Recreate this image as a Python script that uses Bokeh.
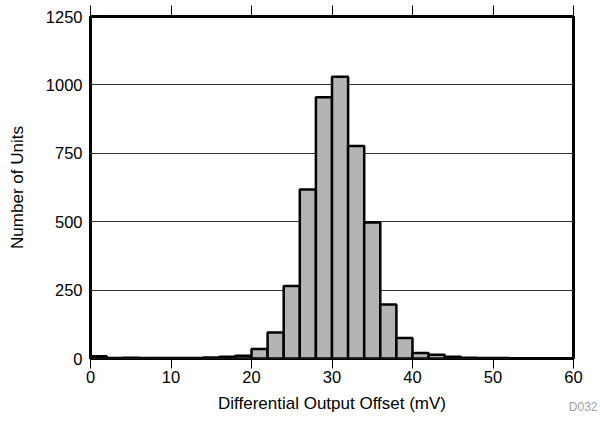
from bokeh.plotting import figure
from bokeh.models import Range1d, LinearAxis, FixedTicker, Title, CustomJSTickFormatter
from bokeh.embed import file_html
from bokeh.resources import INLINE

bin_left = [0, 2, 4, 6, 8, 10, 12, 14, 16, 18, 20, 22, 24, 26, 28,
            30, 32, 34, 36, 38, 40, 42, 44, 46, 48, 50, 52, 54, 56, 58]
bin_width = 2
counts = [8, 2, 3, 2, 2, 2, 2, 4, 6, 10, 35, 95, 265, 618, 955,
          1030, 777, 497, 197, 75, 20, 14, 6, 3, 2, 2, 1, 1, 1, 1]
x_ticks = [0, 10, 20, 30, 40, 50, 60]
y_ticks = [0, 250, 500, 750, 1000, 1250]
x_label = "Differential Output Offset (mV)"
y_label = "Number of Units"
note = "D032"

FONT = "Liberation Sans"

p = figure(width=598, height=420, output_backend="svg", toolbar_location=None,
           x_range=Range1d(0, 60), y_range=Range1d(0, 1250),
           min_border_left=90, min_border_right=25, min_border_top=16, min_border_bottom=62)
p.background_fill_color = "white"
p.border_fill_color = "white"
p.outline_line_color = "black"
p.outline_line_width = 3

p.quad(left=bin_left, right=[l + bin_width for l in bin_left], top=counts, bottom=0,
       fill_color="#b4b4b4", line_color="black", line_width=2.5)

p.xgrid.visible = False
p.ygrid.ticker = FixedTicker(ticks=y_ticks)
p.ygrid.grid_line_color = "#333333"
p.ygrid.grid_line_width = 1

xa = p.xaxis[0]
xa.ticker = FixedTicker(ticks=x_ticks)
xa.axis_line_color = None
xa.major_tick_out = 10
xa.major_tick_in = 0
xa.major_tick_line_color = "black"
xa.minor_tick_line_color = None
xa.major_label_text_font = FONT
xa.major_label_text_font_size = "16.5px"
xa.major_label_text_color = "black"
xa.major_label_standoff = 2
xa.axis_label = x_label
xa.axis_label_text_font = FONT
xa.axis_label_text_font_size = "17px"
xa.axis_label_text_font_style = "normal"
xa.axis_label_text_color = "black"
xa.axis_label_standoff = 8

ya = p.yaxis[0]
ya.ticker = FixedTicker(ticks=y_ticks)
ya.axis_line_color = None
ya.major_tick_out = 0
ya.major_tick_in = 0
ya.minor_tick_line_color = None
ya.major_label_text_font = FONT
ya.major_label_text_font_size = "16.5px"
ya.major_label_text_color = "black"
ya.major_label_standoff = 8
ya.axis_label = y_label
ya.axis_label_text_font = FONT
ya.axis_label_text_font_size = "17px"
ya.axis_label_text_font_style = "normal"
ya.axis_label_text_color = "black"
ya.axis_label_standoff = 16

top = LinearAxis(ticker=FixedTicker(ticks=x_ticks),
                 formatter=CustomJSTickFormatter(code="return ''"))
top.axis_line_color = None
top.major_tick_out = 11
top.major_tick_in = 0
top.major_tick_line_color = "black"
top.minor_tick_line_color = None
top.major_label_standoff = 0
p.add_layout(top, "above")

note_title = Title(text=note, align="right", vertical_align="top", offset=-24, standoff=-32,
                   text_font=FONT, text_font_size="12px", text_font_style="normal",
                   text_color="#a0a0a0")
p.add_layout(note_title, "below")

open("out.html", "w").write(file_html(p, INLINE))
